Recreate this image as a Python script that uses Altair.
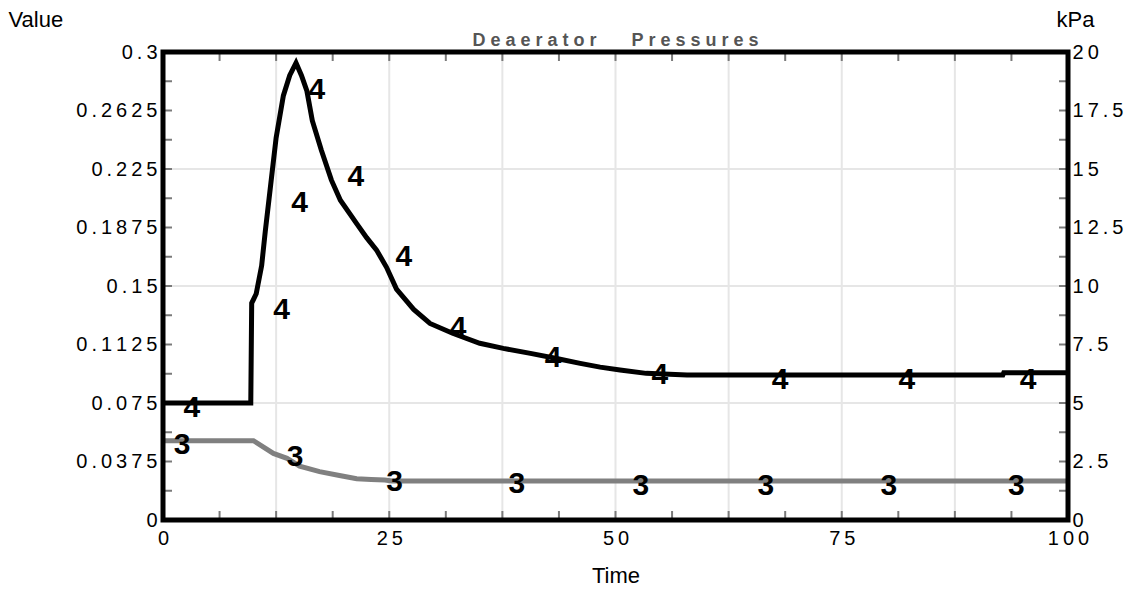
import altair as alt
import pandas as pd

NB = "\u00a0"
TS = "\u2009"

# ---- data ----
# series 4 (black, Value axis)
black_t = [0, 9.7, 9.8, 10.3, 10.9, 11.3, 11.9, 12.5, 13.3, 14.0, 14.7, 15.3, 15.9, 16.5,
           17.5, 18.6, 19.6, 21.4, 22.5, 23.6, 24.7, 25.8, 27.7, 29.5, 32.0, 35.0, 37.6,
           40.6, 43.5, 46.1, 48.3, 50.5, 53.4, 57.9, 92.8, 92.9, 100]
black_v = [0.075, 0.075, 0.139, 0.145, 0.163, 0.185, 0.215, 0.245, 0.272, 0.285, 0.293, 0.285,
           0.275, 0.256, 0.237, 0.218, 0.205, 0.190, 0.181, 0.173, 0.162, 0.148, 0.135, 0.126,
           0.1197, 0.1133, 0.110, 0.1068, 0.1035, 0.1004, 0.098, 0.0962, 0.094, 0.093, 0.093,
           0.0944, 0.0944]
# series 3 (gray)
gray_t = [0, 10.0, 12.2, 13.7, 15.1, 17.3, 19.5, 21.4, 23.0, 24.5, 25.3, 100]
gray_v = [0.0508, 0.0508, 0.0427, 0.0395, 0.0345, 0.031, 0.0285, 0.0265, 0.026, 0.0256, 0.025, 0.025]

# curve labels
lab4_t = [3.2, 13.1, 15.1, 17.0, 21.3, 26.6, 32.6, 43.1, 54.9, 68.2, 82.2, 95.6]
lab4_v = [0.0718, 0.1346, 0.203, 0.2756, 0.220, 0.1688, 0.1229, 0.1036, 0.093, 0.0897, 0.0897, 0.0897]
lab3_t = [2.1, 14.6, 25.6, 39.1, 52.8, 66.6, 80.2, 94.3]
lab3_v = [0.048, 0.0406, 0.0246, 0.0231, 0.0218, 0.0218, 0.0218, 0.0218]

# axes
x_labels = [0, 25, 50, 75, 100]
x_grid = [12.5, 25, 37.5, 50, 62.5, 75, 87.5]
x_minor = [6.25, 12.5, 18.75, 25, 31.25, 37.5, 43.75, 50, 56.25, 62.5, 68.75, 75, 81.25, 87.5, 93.75]
y_labels = [0, 0.0375, 0.075, 0.1125, 0.15, 0.1875, 0.225, 0.2625, 0.3]
y_grid = [0.075, 0.15, 0.225]
y_minor = [0.01875, 0.0375, 0.05625, 0.075, 0.09375, 0.1125, 0.13125, 0.15, 0.16875, 0.1875,
           0.20625, 0.225, 0.24375, 0.2625, 0.28125]
kpa_labels = [0, 2.5, 5, 7.5, 10, 12.5, 15, 17.5, 20]

title_text = "Deaerator   Pressures"
FONT = "Liberation Sans"
W, H = 905, 468
LBL = 20
TTL = 22

spaced = "join(split(format(datum.value, '~g'), ''), '" + TS + "')"

x_axis = alt.Axis(values=x_labels, labelExpr=spaced, labelFont=FONT, orient="bottom",
                  labelFontSize=LBL, labelColor="black", labelPadding=8, labelFlush=False,
                  labelOverlap=False, ticks=False, domain=False, grid=False, title="Time",
                  titleFont=FONT, titleFontSize=TTL, titleFontWeight="normal",
                  titleColor="black", titlePadding=17)
y_axis = alt.Axis(values=y_labels, labelExpr=spaced, orient="left", labelFlush=False,
                  labelOverlap=False, labelFont=FONT, labelFontSize=LBL, labelColor="black",
                  labelPadding=6, ticks=False, domain=False, grid=False, title="Value",
                  titleFont=FONT, titleFontSize=TTL, titleFontWeight="normal",
                  titleColor="black", titleAngle=0, titleX=-155, titleY=-26,
                  titleAlign="left", titleBaseline="alphabetic")


def X():
    # identical axis on every layer so the shared x axis merges cleanly
    return alt.X("t:Q", scale=alt.Scale(domain=[0, 100], nice=False, zero=False), axis=x_axis)


def Y(axis=None):
    return alt.Y("v:Q", scale=alt.Scale(domain=[0, 0.3], nice=False, zero=False), axis=axis)


df_b = pd.DataFrame({"t": black_t, "v": black_v})
df_g = pd.DataFrame({"t": gray_t, "v": gray_v})
df_l4 = pd.DataFrame({"t": lab4_t, "v": lab4_v, "s": ["4"] * len(lab4_t)})
df_l3 = pd.DataFrame({"t": lab3_t, "v": lab3_v, "s": ["3"] * len(lab3_t)})

grid_v = alt.Chart(pd.DataFrame({"t": x_grid})).mark_rule(color="#e6e6e6", strokeWidth=2).encode(x=X())
grid_h = alt.Chart(pd.DataFrame({"v": y_grid})).mark_rule(color="#e6e6e6", strokeWidth=2).encode(y=Y())

tick_style = dict(color="#7a7a7a", strokeWidth=2)
tk_left = alt.Chart(pd.DataFrame({"v": y_minor})).mark_rule(**tick_style).encode(
    y=Y(), x=alt.value(0), x2=alt.value(9))
tk_right = alt.Chart(pd.DataFrame({"v": y_minor})).mark_rule(**tick_style).encode(
    y=Y(), x=alt.value(W - 9), x2=alt.value(W))
tk_bot = alt.Chart(pd.DataFrame({"t": x_minor})).mark_rule(**tick_style).encode(
    x=X(), y=alt.value(H - 9), y2=alt.value(H))
tk_top = alt.Chart(pd.DataFrame({"t": x_minor})).mark_rule(**tick_style).encode(
    x=X(), y=alt.value(0), y2=alt.value(9))

line_g = alt.Chart(df_g).mark_line(color="#808080", strokeWidth=5).encode(x=X(), y=Y(), order="t:Q")
line_b = alt.Chart(df_b).mark_line(color="black", strokeWidth=5).encode(
    x=X(), y=Y(y_axis), order="t:Q")

txt = dict(font=FONT, fontWeight="bold", fontSize=30, align="center", baseline="middle", color="black")
t4 = alt.Chart(df_l4).mark_text(**txt).encode(x=X(), y=Y(), text="s:N")
t3 = alt.Chart(df_l3).mark_text(**txt).encode(x=X(), y=Y(), text="s:N")

frame = alt.Chart(pd.DataFrame({"t": [0]})).mark_rect(fill=None, stroke="black", strokeWidth=5).encode(
    x=alt.value(0), x2=alt.value(W), y=alt.value(0), y2=alt.value(H))

title = alt.Chart(pd.DataFrame({"s": [NB.join(title_text.replace(" ", NB))]})).mark_text(
    font=FONT, fontSize=18, fontWeight="bold", color="#555555", align="center",
    baseline="alphabetic").encode(text="s:N", x=alt.value(W / 2), y=alt.value(-6))

right = alt.Chart(pd.DataFrame({"k": kpa_labels})).mark_tick(opacity=0).encode(
    y=alt.Y("k:Q", scale=alt.Scale(domain=[0, 20], nice=False, zero=False),
            axis=alt.Axis(orient="right", values=kpa_labels, labelExpr=spaced,
                          labelFlush=False, labelOverlap=False,
                          labelFont=FONT, labelFontSize=LBL, labelColor="black", labelPadding=4,
                          ticks=False, domain=False, grid=False, title="kPa", titleFont=FONT,
                          titleFontSize=TTL, titleFontWeight="normal", titleColor="black",
                          titleAngle=0, titleX=-12, titleY=-26, titleAlign="left",
                          titleBaseline="alphabetic")))

chart = alt.layer(
    grid_v, grid_h, tk_left, tk_right, tk_bot, tk_top, line_g, line_b, t3, t4, frame,
    title, right
).resolve_scale(y="independent").properties(
    width=W, height=H,
    autosize=alt.AutoSizeParams(type="none"),
    padding={"left": 155, "top": 44, "right": 59, "bottom": 70},
    background="white",
).configure_view(stroke=None)

chart.save("out.html", embed_options={"renderer": "svg", "actions": False})
